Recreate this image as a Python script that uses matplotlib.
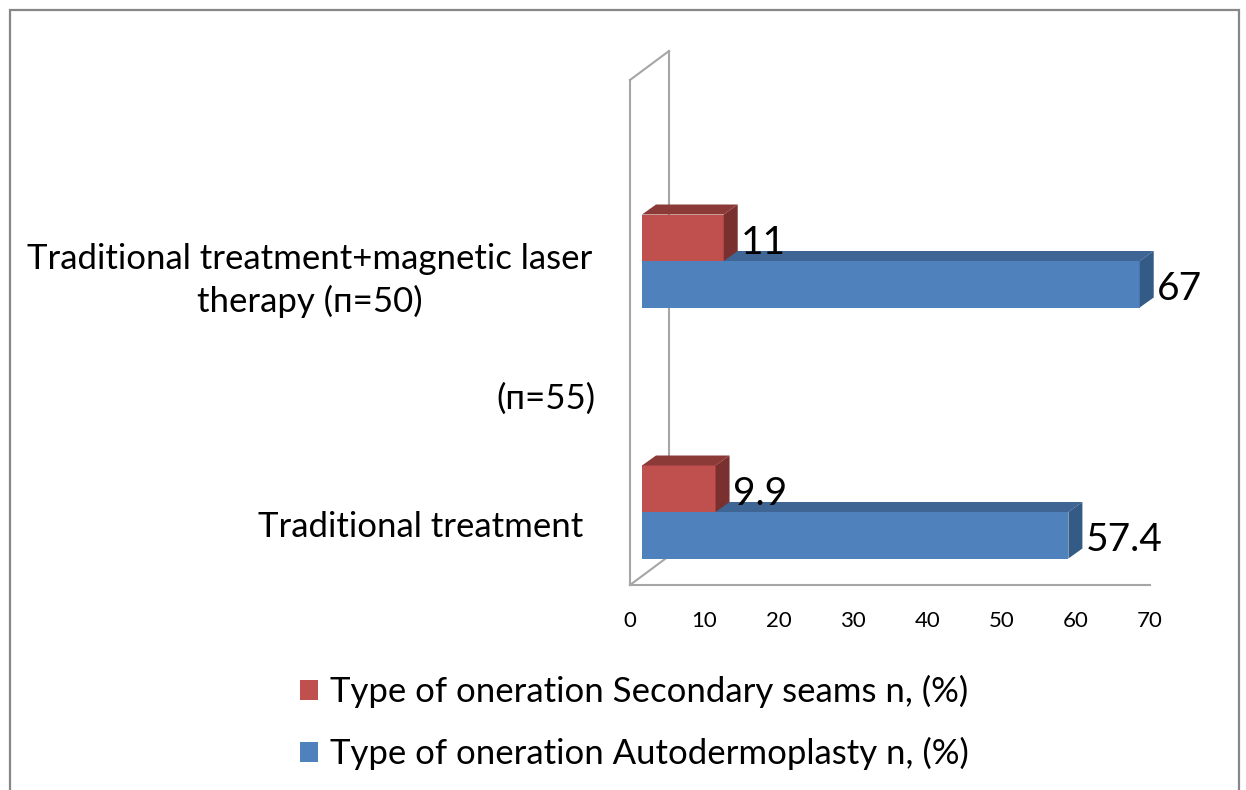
import matplotlib
matplotlib.use("Agg")
import matplotlib.pyplot as plt
import matplotlib.transforms as mtransforms
from matplotlib.patches import Polygon, Rectangle
from matplotlib.lines import Line2D

# ---------------- data ----------------
categories = ["Traditional treatment ",
              "Traditional treatment+magnetic laser\ntherapy (п=50)"]
extra_label = "(п=55)"
series_names = ["Type of oneration Secondary seams n, (%)",
                "Type of oneration Autodermoplasty n, (%)"]
secondary_seams = [9.9, 11]
autodermoplasty = [57.4, 67]
x_ticks = [0, 10, 20, 30, 40, 50, 60, 70]

# ---------------- style ----------------
FONT = ["Lato", "DejaVu Sans"]
plt.rcParams["font.family"] = FONT
W, H = 1246, 790
DPI = 100
red_front, red_top, red_side = "#C0504D", "#8C3A38", "#7A302E"
blue_front, blue_top, blue_side = "#4F81BD", "#3E6594", "#345A86"
wall_col = "#A6A6A6"
LABEL_FS = 25

fig = plt.figure(figsize=(W / DPI, H / DPI), dpi=DPI)

def fx(px):
    return px / W

def fy(py):
    return 1 - py / H

# outer frame
fig.add_artist(Rectangle((fx(10), fy(800)), fx(1239) - fx(10), fy(10) - fy(800),
                         transform=fig.transFigure, fill=False,
                         edgecolor="#878787", linewidth=1.6))

left_px, right_px, top_px, bot_px = 630, 1150, 80, 585
ax = fig.add_axes([fx(left_px), fy(bot_px), fx(right_px - left_px), (bot_px - top_px) / H])
ax.set_xlim(0, 70)
group_px = 251.0
ylo = -(bot_px - 512) / group_px
ax.set_ylim(ylo, ylo + (bot_px - top_px) / group_px)
ax.patch.set_visible(False)
for s in ("top", "right"):
    ax.spines[s].set_visible(False)
for s in ("left", "bottom"):
    ax.spines[s].set_color(wall_col)
    ax.spines[s].set_linewidth(1.5)

ax.set_xticks(x_ticks)
ax.set_xticklabels([str(t) for t in x_ticks], fontsize=16)
ax.tick_params(axis="x", length=0, pad=19)

cat_pos = list(range(len(categories)))
label_shift = -0.048
ax.set_yticks([c + label_shift for c in cat_pos])
ax.set_yticklabels(categories, fontsize=LABEL_FS, multialignment="center",
                   linespacing=1.35)
ax.tick_params(axis="y", length=0, pad=27.4)
ax.text(-4.7, 0.5 + label_shift, extra_label, transform=ax.transData,
        ha="right", va="center", fontsize=LABEL_FS, clip_on=False)

# back wall (depth offset)
wall_dx, wall_dy = 39, 29
ident = mtransforms.IdentityTransform()
p_bl = ax.transAxes.transform((0, 0))
p_tl = ax.transAxes.transform((0, 1))
b_bl = p_bl + (wall_dx, wall_dy)
b_tl = p_tl + (wall_dx, wall_dy)
for (a, b) in [(p_tl, b_tl), (b_tl, b_bl), (p_bl, b_bl)]:
    ax.add_artist(Line2D([a[0], b[0]], [a[1], b[1]], transform=ident,
                         color=wall_col, linewidth=1.5, clip_on=False, zorder=1))

# bars
bar_trans = mtransforms.offset_copy(ax.transData, fig=fig, x=12, y=0, units="dots")
bar_h = 46.5 / group_px
depth = (14, 10)

def draw_bar(v, yc, cf, ct, cs, z):
    ax.barh([yc], [v], height=bar_h, color=cf, transform=bar_trans,
            zorder=z, linewidth=0, clip_on=False)
    yt, yb = yc + bar_h / 2, yc - bar_h / 2
    fl, fr = bar_trans.transform([(0, yt), (v, yt)])
    br_b = bar_trans.transform((v, yb))
    top = [fl, fr, fr + depth, fl + depth]
    side = [br_b, fr, fr + depth, br_b + depth]
    ax.add_patch(Polygon(top, closed=True, transform=ident, facecolor=ct,
                         edgecolor="none", zorder=z, clip_on=False))
    ax.add_patch(Polygon(side, closed=True, transform=ident, facecolor=cs,
                         edgecolor="none", zorder=z, clip_on=False))
    ax.annotate(f"{v:g}", xy=(v, yc), xycoords=bar_trans,
                xytext=(17, -16), textcoords="offset pixels",
                ha="left", va="baseline", fontsize=28, zorder=z + 1,
                annotation_clip=False)

for i, c in enumerate(cat_pos):
    z = 3 + i * 4
    draw_bar(autodermoplasty[i], c - bar_h / 2, blue_front, blue_top, blue_side, z)
    draw_bar(secondary_seams[i], c + bar_h / 2, red_front, red_top, red_side, z + 2)

# legend
handles = [Rectangle((0, 0), 1, 1, facecolor=red_front, edgecolor="none"),
           Rectangle((0, 0), 1, 1, facecolor=blue_front, edgecolor="none")]
fig.legend(handles, series_names, loc="upper left",
           bbox_to_anchor=(fx(300), fy(675)), frameon=False, fontsize=LABEL_FS,
           handlelength=0.52, handleheight=0.52, handletextpad=0.35,
           labelspacing=0.84, borderpad=0, borderaxespad=0)

fig.savefig("out.png", dpi=DPI)
